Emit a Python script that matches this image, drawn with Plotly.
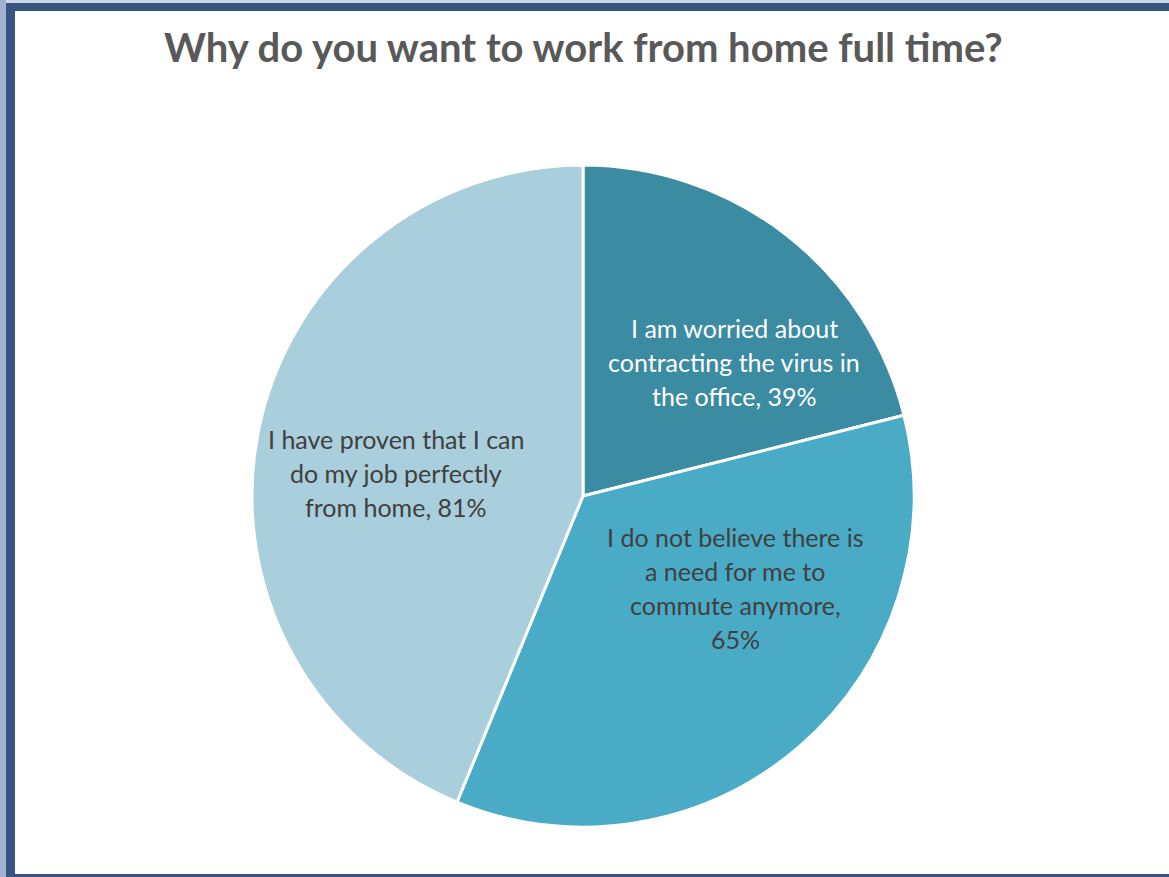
import plotly.graph_objects as go

# Survey answers (share of respondents, %)
reasons = [
    "I am worried about<br>contracting the virus in<br>the office",
    "I do not believe there is<br>a need for me to<br>commute anymore,",
    "I have proven that I can<br>do my job perfectly<br>from home",
]
shares = [39, 65, 81]
slice_colors = ["#3B8BA3", "#4AABC6", "#A9CEDC"]
text_colors = ["#FFFFFF", "#404040", "#404040"]

W, H = 1169, 877

def px(x):
    return x / W

def py(y):
    return 1 - y / H

fig = go.Figure(
    go.Pie(
        labels=[r.replace("<br>", " ") for r in reasons],
        values=shares,
        sort=False,
        direction="clockwise",
        rotation=0,
        marker=dict(colors=slice_colors, line=dict(color="#FFFFFF", width=3)),
        textinfo="none",
        hoverinfo="label+value",
        showlegend=False,
        domain=dict(x=[px(252), px(914)], y=[py(827), py(165)]),
    )
)

# Data labels: label text followed by the value, one annotation per line
label_centers = [(734, 362), (735, 588), (396, 473)]
line_gap = 34
for reason, share, color, (cx, cy) in zip(reasons, shares, text_colors, label_centers):
    sep = "<br>" if reason.endswith(",") else ", "
    lines = (reason + sep + f"{share}%").split("<br>")
    top = cy - line_gap * (len(lines) - 1) / 2
    for i, line in enumerate(lines):
        fig.add_annotation(
            x=px(cx), y=py(top + i * line_gap), xref="paper", yref="paper",
            text=line, showarrow=False, xanchor="center", yanchor="middle",
            font=dict(family="Lato", size=25, color=color),
        )

# Title
fig.add_annotation(
    x=px(583), y=py(47), xref="paper", yref="paper",
    text="<b>Why do you want to work from home full time?</b>",
    showarrow=False, xanchor="center", yanchor="middle",
    font=dict(family="Lato", size=40, color="#595959"),
)

# Window frame around the chart
frame = [
    (0, 0, W, 3, "#CDD6E8"),
    (0, 0, 6, H, "#9FB2D2"),
    (6, 3, W, 11, "#37557F"),
    (6, 3, 15, H, "#37557F"),
    (15, 874, W, H, "#37557F"),
]
for x0, y0, x1, y1, c in frame:
    fig.add_shape(
        type="rect", xref="paper", yref="paper",
        x0=px(x0), x1=px(x1), y0=py(y1), y1=py(y0),
        fillcolor=c, line=dict(width=0), layer="below",
    )

fig.update_layout(
    width=W, height=H,
    margin=dict(l=0, r=0, t=0, b=0),
    paper_bgcolor="#FFFFFF",
    plot_bgcolor="#FFFFFF",
)

fig.write_html("out.html")
